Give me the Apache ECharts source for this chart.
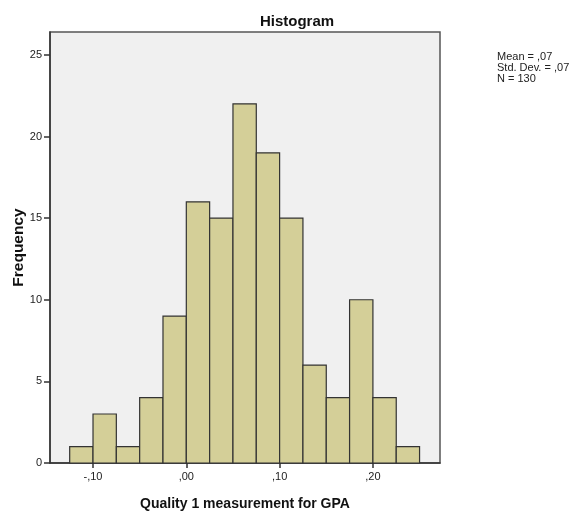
<!DOCTYPE html>
<html>
<head>
<meta charset="utf-8">
<script src="https://cdn.jsdelivr.net/npm/echarts@6/dist/echarts.min.js"></script>
<style>
  html, body { margin: 0; padding: 0; background: #fff; }
  #chart { width: 583px; height: 516px; }
</style>
</head>
<body>
<div id="chart"></div>
<script>
// Bin edges (lower bounds) and frequencies of the GPA quality measure
const binStarts = [-0.125, -0.100, -0.075, -0.050, -0.025, 0.000, 0.025, 0.050, 0.075, 0.100, 0.125, 0.150, 0.175, 0.200, 0.225];
const binWidth = 0.025;
const frequencies = [1, 3, 1, 4, 9, 16, 15, 22, 19, 15, 6, 4, 10, 4, 1];

const xTicks = [-0.1, 0.0, 0.1, 0.2];
const yTicks = [0, 5, 10, 15, 20, 25];
const statLines = ['Mean = ,07', 'Std. Dev. = ,07', 'N = 130'];

// SPSS-style decimal comma without leading zero: -0.1 -> "-,10"
function fmtComma(v) {
  const s = Math.abs(v).toFixed(2).replace(/^0\./, ',');
  return (v < 0 ? '-' : '') + s;
}

const data = binStarts.map((s, i) => [s, s + binWidth, frequencies[i]]);

const chart = echarts.init(document.getElementById('chart'), null, { renderer: 'canvas' });
const font = 'Liberation Sans, Arial, sans-serif';

chart.setOption({
  animation: false,
  title: {
    text: 'Histogram',
    left: 292, top: 9, textAlign: 'center',
    textStyle: { fontFamily: font, fontSize: 15, fontWeight: 'bold', color: '#111' }
  },
  grid: {
    left: 50, right: 143, top: 32, bottom: 53,
    outerBoundsMode: 'none', containLabel: false,
    show: true, backgroundColor: '#F0F0F0', borderColor: '#555', borderWidth: 1.5
  },
  xAxis: {
    type: 'value',
    min: -0.1461, max: 0.2719,
    name: 'Quality 1 measurement for GPA',
    nameLocation: 'middle', nameGap: 34, nameMoveOverlap: false,
    nameTextStyle: { fontFamily: font, fontSize: 14, fontWeight: 'bold', color: '#111' },
    axisLine: { show: true, onZero: false, lineStyle: { color: '#333', width: 1.5 } },
    axisTick: { show: true, length: 5, customValues: xTicks, lineStyle: { color: '#333', width: 1.5 } },
    axisLabel: {
      customValues: xTicks, formatter: fmtComma, margin: 8,
      fontFamily: font, fontSize: 11, color: '#222'
    },
    splitLine: { show: false }
  },
  yAxis: {
    type: 'value',
    min: 0, max: 26.4,
    name: 'Frequency',
    nameLocation: 'middle', nameGap: 23, nameMoveOverlap: false,
    nameTextStyle: { fontFamily: font, fontSize: 15.5, fontWeight: 'bold', color: '#111' },
    axisLine: { show: true, onZero: false, lineStyle: { color: '#333', width: 1.5 } },
    axisTick: { show: true, length: 6, customValues: yTicks, lineStyle: { color: '#333', width: 1.5 } },
    axisLabel: {
      customValues: yTicks, margin: 8,
      fontFamily: font, fontSize: 11, color: '#222'
    },
    splitLine: { show: false }
  },
  graphic: [{
    type: 'text',
    left: 497, top: 51,
    style: {
      text: statLines.join('\n'),
      fontFamily: font, fontSize: 11, lineHeight: 11, fill: '#222'
    }
  }],
  series: [{
    type: 'custom',
    data: data,
    encode: { x: [0, 1], y: 2 },
    renderItem: function (params, api) {
      const p0 = api.coord([api.value(0), 0]);
      const p1 = api.coord([api.value(1), api.value(2)]);
      return {
        type: 'rect',
        shape: { x: p0[0], y: p1[1], width: p1[0] - p0[0], height: p0[1] - p1[1] },
        style: { fill: '#D4CF98', stroke: '#333', lineWidth: 1.2 }
      };
    }
  }]
});
</script>
</body>
</html>
